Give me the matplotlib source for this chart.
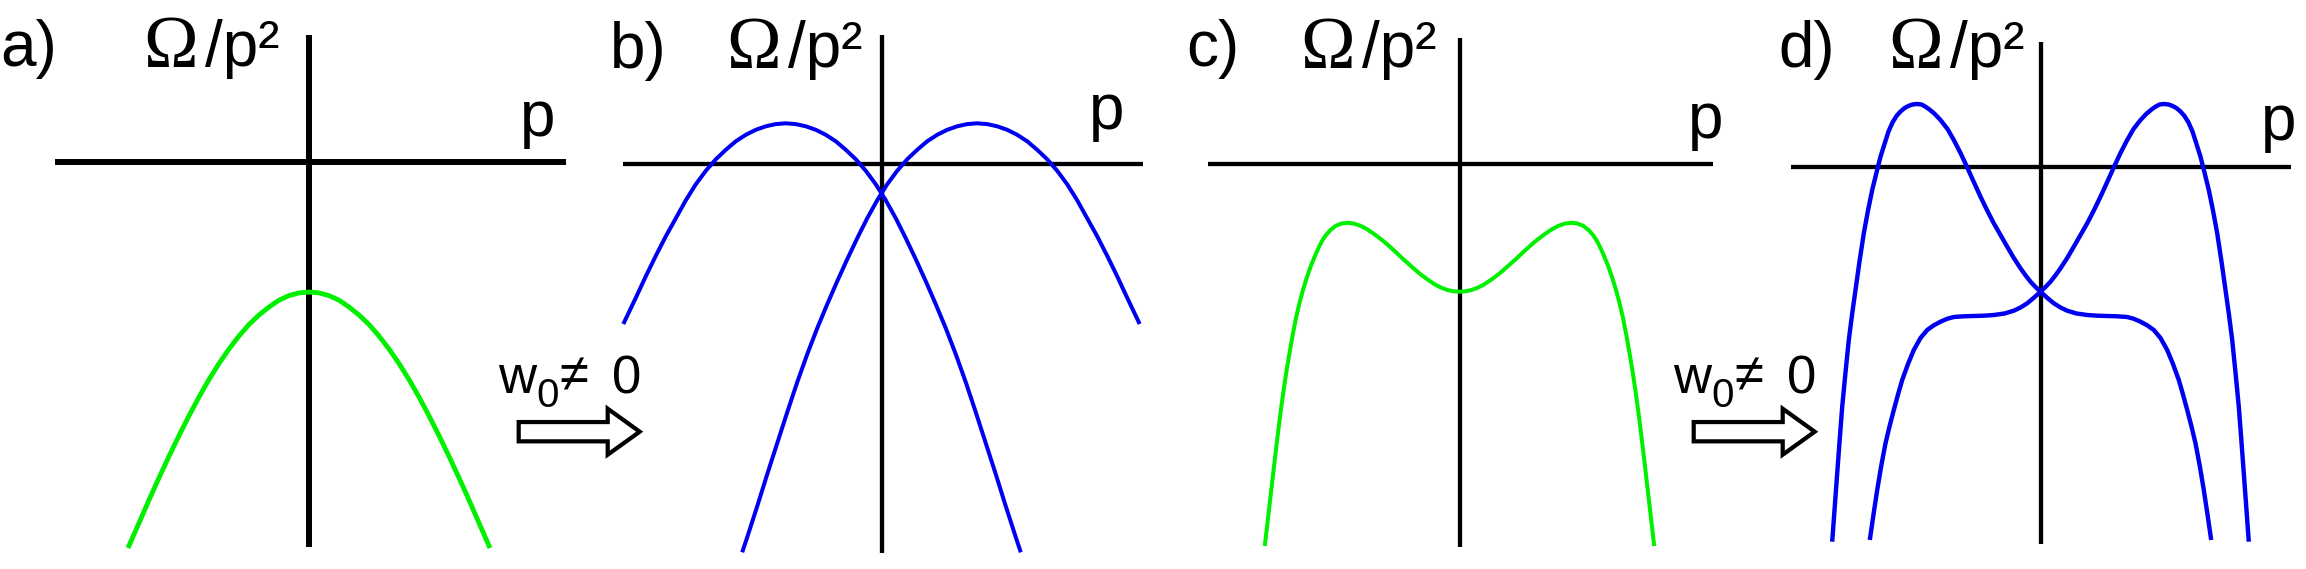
import matplotlib
matplotlib.use("Agg")
import matplotlib.pyplot as plt
from matplotlib.patches import FancyArrow
import numpy as np

W, H = 2306, 569

# curves: p to the right, Omega upward,
# both in pixels measured from where the two axes cross
a_p = [-181, -170, -160, -150, -140, -130, -120, -110, -100, -90, -80, -70, -60, -50,
       -40, -30, -20, -10, 0, 10, 20, 30, 40, 50, 60, 70, 80, 90, 100, 110, 120,
       130, 140, 150, 160, 170, 181]
a_om = [-386, -361, -338, -315.8, -294.3, -273.6, -253.8, -235, -217.5, -201.5, -187,
        -174, -162.5, -153, -145, -138.2, -133.6, -130.9, -130, -130.9, -133.6, -138.2,
        -145, -153, -162.5, -174, -187, -201.5, -217.5, -235, -253.8, -273.6, -294.3,
        -315.8, -338, -361, -386]

b1_p = [-258.2, -250.7, -245.7, -235.7, -225.7, -215.7, -205.7, -195.7, -185.7, -175.7,
        -165.7, -155.7, -145.7, -135.7, -125.7, -115.7, -105.7, -95.7, -85.7, -75.7,
        -65.7, -55.7, -45.7, -35.7, -25.7, -15.7, -5.7, 4.3, 14.3, 24.3, 34.3, 44.3,
        54.3, 64.3, 74.3, 84.3, 94.3, 104.3, 114.3, 124.3, 134.3, 139.3]
b1_om = [-160, -144.3, -133.8, -112.3, -91.8, -72.3, -54.3, -36.3, -20.3, -6.8,
         4.7, 14.2, 22.7, 29.2, 34.2, 37.7, 39.9, 40.7, 39.9, 37.7,
         34.2, 29.2, 22.7, 14.2, 4.7, -6.8, -20.3, -36.3, -54.3, -74.3, -95.3, -117.3,
         -140.3, -164.3, -190.3, -218.3, -248.3, -279.3, -310.3, -342.3, -373.3, -388.3]
b2_p = [-139.3, -134.3, -124.3, -114.3, -104.3, -94.3, -84.3, -74.3, -64.3, -54.3,
        -44.3, -34.3, -24.3, -14.3, -4.3, 5.7, 15.7, 25.7, 35.7, 45.7, 55.7, 65.7,
        75.7, 85.7, 95.7, 105.7, 115.7, 125.7, 135.7, 145.7, 155.7, 165.7, 175.7,
        185.7, 195.7, 205.7, 215.7, 225.7, 235.7, 245.7, 250.7, 258.2]
b2_om = [-388.3, -373.3, -342.3, -310.3, -279.3, -248.3, -218.3, -190.3, -164.3, -140.3,
         -117.3, -95.3, -74.3, -54.3, -36.3, -20.3, -6.8, 4.7, 14.2, 22.7, 29.2, 34.2,
         37.7, 39.9, 40.7, 39.9, 37.7, 34.2, 29.2, 22.7, 14.2, 4.7, -6.8,
         -20.3, -36.3, -54.3, -72.3, -91.8, -112.3, -133.8, -144.3, -160]

c_p = [-194.7, -191, -188, -185, -182, -179, -176, -173, -170, -167, -163.5, -160,
       -156.5, -153, -149, -145, -141, -137.5, -133.5, -129, -124, -118, -111.7, -105,
       -99, -92, -84, -75, -66, -57, -48, -40, -32, -24, -18, -12, -6, 0,
       6, 12, 18, 24, 32, 40, 48, 57, 66, 75, 84, 92, 99, 105, 111.7, 118, 124,
       129, 133.5, 137.5, 141, 145, 149, 153, 156.5, 160, 163.5, 167, 170, 173,
       176, 179, 182, 185, 188, 191, 194.7]
c_om = [-382, -350, -324, -298, -273, -249, -227, -207, -189, -172, -154, -139,
        -126, -114.5, -103, -93, -84, -77, -71, -66, -62, -59.5, -58.8, -59.7,
        -61.8, -65.5, -71, -78, -86, -94.5, -102.5, -109.5, -115.5, -120.8, -123.8,
        -126, -127.3, -127.7,
        -127.3, -126, -123.8, -120.8, -115.5, -109.5, -102.5, -94.5, -86, -78, -71,
        -65.5, -61.8, -59.7, -58.8, -59.5, -62, -66, -71, -77, -84, -93, -103,
        -114.5, -126, -139, -154, -172, -189, -207, -227, -249, -273, -298, -324,
        -350, -382]

d1_p = [-208.3, -205.8, -203.3, -200.8, -198.3, -195, -191.7, -188.3, -185, -181,
        -176.7, -172.5, -168.3, -164, -160, -156, -152, -148, -144, -140, -136, -132,
        -128, -123.3, -119, -115, -111, -106, -100, -93, -86.7, -80, -73.3, -66.7,
        -60, -53.3, -46.7, -40, -33.3, -26.7, -20, -15, -10, -5, 0, 6.7, 13.3, 20,
        26.7, 36, 46.7, 56.7, 66.7, 76.7, 86.7, 93.3, 100, 106.7, 113.3, 120, 126.7,
        132.5, 138.3, 142.5, 146.7, 151, 155, 159.2, 163.3, 167, 170.7]
d1_om = [-375.2, -341, -306.8, -273, -240.2, -206, -173.5, -147, -123.5, -95,
         -66.8, -44, -23.5, -6, 9.8, 22.5, 35, 44, 50.5, 55, 58.4, 60.6,
         62, 62.5, 62, 59.8, 57, 52.8, 46.5, 37.5, 26.5, 13.5, -0.8, -15.5,
         -30.2, -44, -56.8, -68.5, -80.2, -91.5, -101.8, -108.8, -115.2, -120.5, -125.2,
         -131.3, -136.8, -141, -144.2, -147, -148.5, -149.2, -149.5, -149.8, -150.5,
         -152.3, -155.2, -158.8, -163.5, -171.5, -183.5, -197.5, -213.5, -228, -243.5,
         -260, -276.8, -299, -323.5, -348, -373.5]
d2_p = [-170.7, -167, -163.3, -159.2, -155, -151, -146.7, -142.5, -138.3, -132.5,
        -126.7, -120, -113.3, -106.7, -100, -93.3, -86.7, -76.7, -66.7, -56.7, -46.7,
        -36, -26.7, -20, -13.3, -6.7, 0, 5, 10, 15, 20, 26.7, 33.3, 40, 46.7, 53.3,
        60, 66.7, 73.3, 80, 86.7, 93, 100, 106, 111, 115, 119, 123.3, 128, 132, 136,
        140, 144, 148, 152, 156, 160, 164, 168.3, 172.5, 176.7, 181, 185, 188.3,
        191.7, 195, 198.3, 200.8, 203.3, 205.8, 208.3]
d2_om = [-373.5, -348, -323.5, -299, -276.8, -260, -243.5, -228, -213.5, -197.5,
         -183.5, -171.5, -163.5, -158.8, -155.2, -152.3, -150.5, -149.8, -149.5, -149.2,
         -148.5, -147, -144.2, -141, -136.8, -131.3, -125.2, -120.5, -115.2, -108.8,
         -101.8, -91.5, -80.2, -68.5, -56.8, -44, -30.2, -15.5, -0.8, 13.5, 26.5, 37.5,
         46.5, 52.8, 57, 59.8, 62, 62.5, 62, 60.6, 58.4, 55, 50.5, 44, 35, 22.5, 9.8,
         -6, -23.5, -44, -66.8, -95, -123.5, -147, -173.5, -206, -240.2, -273, -306.8,
         -341, -375.2]

tags = ["a)", "b)", "c)", "d)"]
GREEN = "#00f000"
BLUE = "#0000f0"

# layout of each panel in pixels: axis crossing, axis extents, label spots
panels = [
    dict(ox=309, oy=162, hx=(54.7, 566), vy=(35, 547), lw=6.0,
         tag_xy=(0, 66), om_xy=(143, 67), p_xy=(520, 135.5),
         curves=[(a_p, a_om, GREEN)], cw=4.8),
    dict(ox=881.5, oy=164, hx=(623, 1142.6), vy=(35, 553), lw=4.3,
         tag_xy=(610, 68), om_xy=(726, 68), p_xy=(1089, 128.5),
         curves=[(b1_p, b1_om, BLUE), (b2_p, b2_om, BLUE)], cw=4.0),
    dict(ox=1459.5, oy=164, hx=(1208, 1713), vy=(38, 547), lw=4.3,
         tag_xy=(1186, 66), om_xy=(1300, 68), p_xy=(1688, 137.5),
         curves=[(c_p, c_om, GREEN)], cw=4.0),
    dict(ox=2040.5, oy=166.5, hx=(1791, 2291), vy=(42, 544), lw=4.3,
         tag_xy=(1778, 67), om_xy=(1888, 68), p_xy=(2261, 139.5),
         curves=[(d1_p, d1_om, BLUE), (d2_p, d2_om, BLUE)], cw=4.4),
]

PX = 0.72  # points per pixel at dpi 100

fig = plt.figure(figsize=(W / 100, H / 100), dpi=100)
ax = fig.add_axes([0, 0, 1, 1])
ax.set_xlim(0, W)
ax.set_ylim(H, 0)
ax.axis("off")

sans = ["Liberation Sans", "DejaVu Sans"]
serif = ["Liberation Serif", "DejaVu Serif"]

for tag, pn in zip(tags, panels):
    ox, oy = pn["ox"], pn["oy"]
    ax.plot(pn["hx"], [oy, oy], color="black", lw=pn["lw"] * PX, solid_capstyle="butt")
    ax.plot([ox, ox], pn["vy"], color="black", lw=pn["lw"] * PX, solid_capstyle="butt")
    for xs, ys, col in pn["curves"]:
        ax.plot(ox + np.array(xs), oy - np.array(ys), color=col,
                lw=pn["cw"] * PX, solid_capstyle="butt", solid_joinstyle="round")
    ax.text(*pn["tag_xy"], tag, fontsize=46, family=sans, va="baseline")
    ax.text(*pn["om_xy"], "Ω", fontsize=53, family=serif, va="baseline")
    ax.text(pn["om_xy"][0] + 62, pn["om_xy"][1] - 1, "/p²", fontsize=46, family=sans,
            va="baseline")
    ax.text(*pn["p_xy"], "p", fontsize=46, family=sans, va="baseline")

# "w0 != 0" transition arrows between a->b and c->d
for x0 in (0, 1175):
    ax.text(498 + x0, 393, "w", fontsize=38, family=sans, va="baseline")
    ax.text(536 + x0, 407, "0", fontsize=29, family=sans, va="baseline")
    ax.text(559 + x0, 392, "≠", fontsize=38, family=sans, va="baseline")
    ax.text(612 + x0, 393, "0", fontsize=38, family=sans, va="baseline")
    ax.add_patch(FancyArrow(518.7 + x0, 431.7, 121, 0, width=19.3, head_width=46,
                            head_length=32, length_includes_head=True,
                            fc="white", ec="black", lw=4.2 * PX, joinstyle="miter"))

fig.savefig("out.png", dpi=100)
